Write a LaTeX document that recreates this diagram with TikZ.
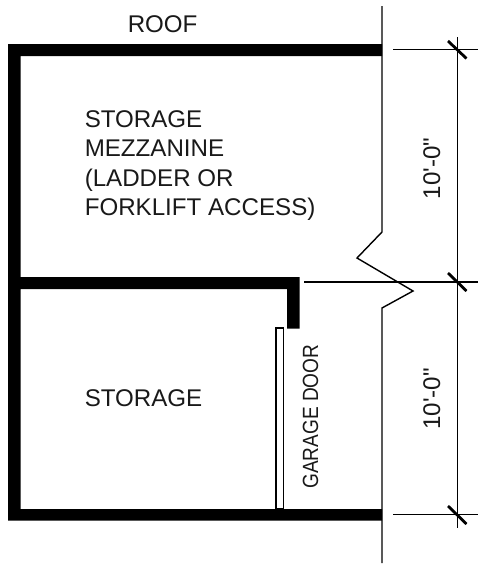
\documentclass[tikz,border=0pt]{standalone}
\usepackage{fontspec}
\setmainfont{Liberation Sans}
\newfontfamily\plainf{Liberation Sans}
\tikzset{
  wall/.style={fill=black,draw=none},
  thin line/.style={draw=black,line width=1.05pt},
  doorbox/.style={draw=black,line width=0.85pt,fill=white},
  tick mark/.style={draw=black,line width=2.1pt},
  lbl/.style={font=\plainf\fontsize{18.1}{22}\selectfont,text=black!90,inner sep=0pt,align=left},
  lblsmall/.style={font=\plainf\fontsize{16.5}{20}\selectfont,text=black!90,inner sep=0pt,align=left},
}
\begin{document}
\begin{tikzpicture}[x=0.75pt,y=-0.75pt]
\useasboundingbox (0,0) rectangle (478,565);
\fill[white] (0,0) rectangle (478,565);
% walls
\fill[wall] (8,44) -- (382,44) -- (382,56) -- (20.5,56) -- (20.5,277) -- (299.5,277) -- (299.5,328.5) -- (287,328.5) -- (287,289) -- (20.5,289) -- (20.5,509) -- (382,509) -- (382,520.5) -- (8,520.5) -- cycle;
% garage door
\draw[doorbox] (276,328) rectangle (283.5,509);
% break line
\coordinate (bt) at (382,6);
\coordinate (b1) at (382,232);
\coordinate (b2) at (357,258);
\coordinate (b3) at (413,291);
\coordinate (b4) at (382,308);
\coordinate (bb) at (382,563);
\draw[thin line] (bt) -- (b1) -- (b2) -- (b3) -- (b4) -- (bb);
% dimensions
\coordinate (dt) at (457.3,37);
\coordinate (db) at (457.3,527.5);
\coordinate (h1a) at (393,49.5);
\coordinate (h1b) at (478,49.5);
\coordinate (h2a) at (304,282);
\coordinate (h2b) at (478,282);
\coordinate (h3a) at (393,514.7);
\coordinate (h3b) at (478,514.7);
\draw[thin line] (dt) -- (db);
\draw[thin line] (h1a) -- (h1b);
\draw[thin line] (h2a) -- (h2b);
\draw[thin line] (h3a) -- (h3b);
\draw[tick mark] (448,41) -- (466.5,58.5);
\draw[tick mark] (448,273) -- (466.5,291);
\draw[tick mark] (448,506) -- (466.5,524);
% labels
\node[lbl,anchor=base west] (roof) at (127.5,32) {ROOF};
\node[lbl,anchor=base west] (m1) at (84.5,127) {STORAGE};
\node[lbl,anchor=base west] (m2) at (84.5,156.7) {MEZZANINE};
\node[lbl,anchor=base west] (m3) at (84.5,186) {(LADDER OR};
\node[lbl,anchor=base west] (m4) at (84.5,215) {FORKLIFT ACCESS)};
\node[lbl,anchor=base west] (st) at (84.5,406) {STORAGE};
\node[lblsmall,anchor=base west,rotate=90] (gd) at (318,489) {\scalebox{0.866}[1]{GARAGE DOOR}};
\node[lbl,anchor=base west,rotate=90] (d1) at (440,199.5) {10'-0"};
\node[lbl,anchor=base west,rotate=90] (d2) at (440,430) {10'-0"};
\end{tikzpicture}
\end{document}
